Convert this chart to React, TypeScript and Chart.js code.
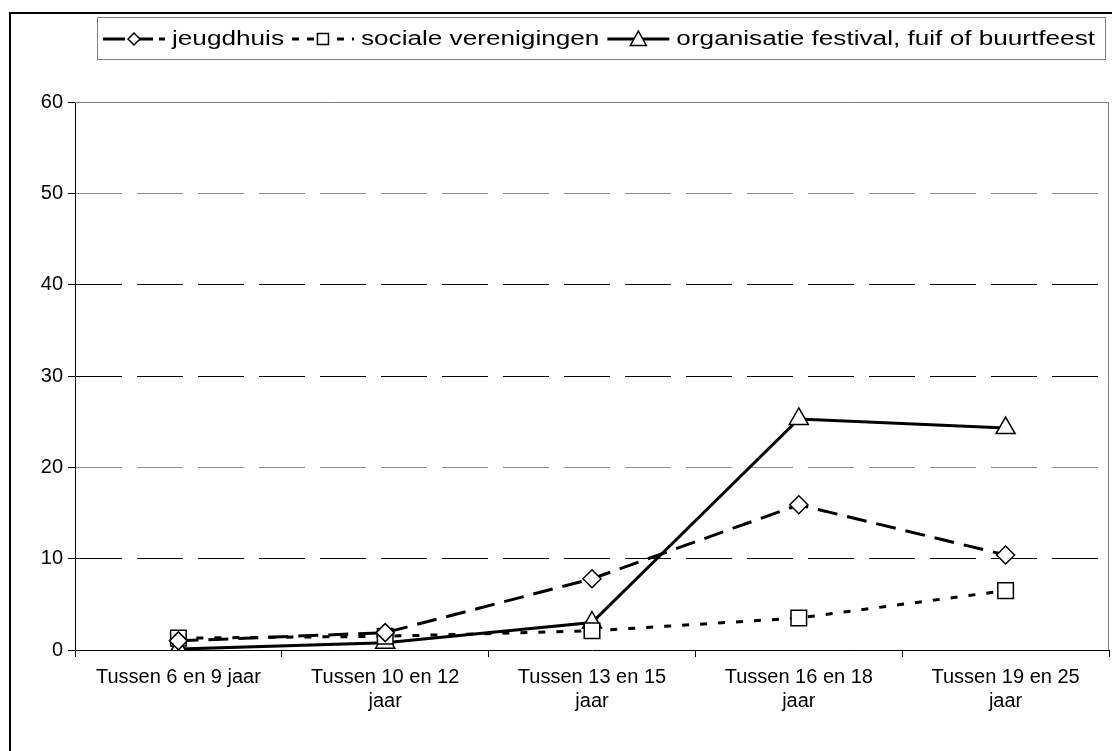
import React, { useEffect, useRef } from "react";
import { Chart, registerables } from "chart.js";

Chart.register(...registerables);

const categories: string[][] = [
  ["Tussen 6 en 9 jaar"],
  ["Tussen 10 en 12", "jaar"],
  ["Tussen 13 en 15", "jaar"],
  ["Tussen 16 en 18", "jaar"],
  ["Tussen 19 en 25", "jaar"],
];
const jeugdhuis = [1.0, 1.9, 7.8, 15.9, 10.4];
const socialeVerenigingen = [1.3, 1.5, 2.1, 3.5, 6.5];
const festival = [0.1, 0.8, 3.0, 25.3, 24.3];
const seriesLabels = ["jeugdhuis", "sociale verenigingen", "organisatie festival, fuif of buurtfeest"];
const yMin = 0;
const yMax = 60;
const yStep = 10;

const FONT = "'Liberation Sans', Arial, sans-serif";
const W = 1112;
const H = 751;

function drawMarker(ctx: CanvasRenderingContext2D, kind: string, x: number, y: number, r: number) {
  ctx.save();
  ctx.setLineDash([]);
  ctx.fillStyle = "#fff";
  ctx.strokeStyle = "#000";
  ctx.lineWidth = 1.5;
  ctx.beginPath();
  if (kind === "diamond") {
    ctx.moveTo(x, y - r);
    ctx.lineTo(x + r, y);
    ctx.lineTo(x, y + r);
    ctx.lineTo(x - r, y);
    ctx.closePath();
  } else if (kind === "square") {
    ctx.rect(x - r, y - r, 2 * r, 2 * r);
  } else {
    ctx.moveTo(x, y - r);
    ctx.lineTo(x + r, y + r * 0.8);
    ctx.lineTo(x - r, y + r * 0.8);
    ctx.closePath();
  }
  ctx.fill();
  ctx.stroke();
  ctx.restore();
}

const decorPlugin = {
  id: "decor",
  afterDraw(chart: any) {
    const ctx: CanvasRenderingContext2D = chart.ctx;
    const a = chart.chartArea;
    ctx.save();
    // plot area top/right border
    ctx.strokeStyle = "#808080";
    ctx.lineWidth = 1;
    ctx.beginPath();
    ctx.moveTo(a.left, Math.round(a.top) + 0.5);
    ctx.lineTo(Math.round(a.right) - 0.5, Math.round(a.top) + 0.5);
    ctx.lineTo(Math.round(a.right) - 0.5, a.bottom);
    ctx.stroke();
    // outer frame
    ctx.strokeStyle = "#000";
    ctx.lineWidth = 2;
    ctx.beginPath();
    ctx.moveTo(10, H + 5);
    ctx.lineTo(10, 13);
    ctx.lineTo(W + 5, 13);
    ctx.stroke();
    // legend box
    const bx = 97, by = 17, bw = 1008, bh = 42;
    ctx.strokeStyle = "#808080";
    ctx.lineWidth = 1;
    ctx.strokeRect(bx + 0.5, by + 0.5, bw, bh);
    const items = [
      { label: seriesLabels[0], dash: [22, 6], marker: "diamond", r: 6 },
      { label: seriesLabels[1], dash: [7, 8], marker: "square", r: 5.5 },
      { label: seriesLabels[2], dash: [], marker: "triangle", r: 8 },
    ];
    ctx.font = `20px ${FONT}`;
    ctx.textBaseline = "middle";
    const L = 62, g1 = 7, g2 = 8;
    const startX = 103, endX = 1095;
    const tw = items.map((it) => ctx.measureText(it.label).width);
    const sumTw = tw.reduce((s, v) => s + v, 0);
    const k = (endX - startX - items.length * (L + g1) - (items.length - 1) * g2) / sumTw;
    let x = startX;
    const cy = by + bh / 2 + 1;
    items.forEach((it, i) => {
      ctx.strokeStyle = "#000";
      ctx.lineWidth = 3;
      ctx.setLineDash(it.dash);
      ctx.beginPath();
      ctx.moveTo(x, cy);
      ctx.lineTo(x + L, cy);
      ctx.stroke();
      ctx.setLineDash([]);
      drawMarker(ctx, it.marker, x + L / 2, cy, it.r);
      const tx = x + L + g1;
      ctx.save();
      ctx.translate(tx, cy);
      ctx.scale(k, 1);
      ctx.fillStyle = "#000";
      ctx.fillText(it.label, 0, 0);
      ctx.restore();
      x = tx + tw[i] * k + g2;
    });
    ctx.restore();
  },
};

export default function App() {
  const ref = useRef<HTMLCanvasElement | null>(null);
  useEffect(() => {
    if (!ref.current) return;
    const chart = new Chart(ref.current, {
      type: "line",
      data: {
        labels: categories,
        datasets: [
          {
            label: seriesLabels[0],
            data: jeugdhuis,
            borderColor: "#000",
            borderWidth: 3,
            borderDash: [20, 10],
            pointStyle: "rectRot",
            pointRadius: 9,
            pointBackgroundColor: "#fff",
            pointBorderColor: "#000",
            pointBorderWidth: 1.5,
            tension: 0,
          },
          {
            label: seriesLabels[1],
            data: socialeVerenigingen,
            borderColor: "#000",
            borderWidth: 3,
            borderDash: [7, 11],
            pointStyle: "rect",
            pointRadius: 11,
            pointBackgroundColor: "#fff",
            pointBorderColor: "#000",
            pointBorderWidth: 1.5,
            tension: 0,
          },
          {
            label: seriesLabels[2],
            data: festival,
            borderColor: "#000",
            borderWidth: 3,
            pointStyle: "triangle",
            pointRadius: 11,
            pointBackgroundColor: "#fff",
            pointBorderColor: "#000",
            pointBorderWidth: 1.5,
            tension: 0,
          },
        ],
      },
      options: {
        responsive: false,
        animation: false,
        layout: { autoPadding: false, padding: { top: 102, right: 3, left: 0, bottom: 0 } },
        plugins: {
          legend: { display: false },
          title: { display: false },
          tooltip: { enabled: false },
        },
        scales: {
          x: {
            offset: true,
            afterFit(scale: any) {
              scale.height = 101;
              scale.paddingLeft = 0;
              scale.paddingRight = 0;
            },
            grid: {
              offset: true,
              drawOnChartArea: false,
              drawTicks: true,
              tickLength: 7,
              color: "#000",
            },
            border: { display: true, color: "#000", width: 1 },
            ticks: {
              color: "#000",
              font: { family: FONT, size: 20, lineHeight: 1.2 },
              padding: 8,
              maxRotation: 0,
              autoSkip: false,
            },
          },
          y: {
            min: yMin,
            max: yMax,
            afterFit(scale: any) {
              scale.width = 75;
              scale.paddingTop = 0;
              scale.paddingBottom = 0;
              scale.paddingLeft = 0;
              scale.paddingRight = 0;
            },
            grid: {
              color: (c: any) => {
                const v = c.tick ? c.tick.value : -1;
                if (v === yMin || v === yMax) return "rgba(0,0,0,0)";
                if (v === 50 || v === 20) return "#8a8a8a";
                return "#000";
              },
              tickColor: "#000",
              tickLength: 7,
              lineWidth: 1,
            },
            border: { display: true, color: "#000", width: 1, dash: [46, 15] },
            ticks: {
              stepSize: yStep,
              color: "#000",
              font: { family: FONT, size: 20 },
              padding: 5,
            },
          },
        },
      },
      plugins: [decorPlugin],
    });
    return () => chart.destroy();
  }, []);
  return (
    <div style={{ position: "fixed", left: 0, top: 0, width: W, height: H, overflow: "hidden", background: "#fff" }}>
      <canvas ref={ref} width={W} height={H} style={{ display: "block", width: W, height: H }} />
    </div>
  );
}
